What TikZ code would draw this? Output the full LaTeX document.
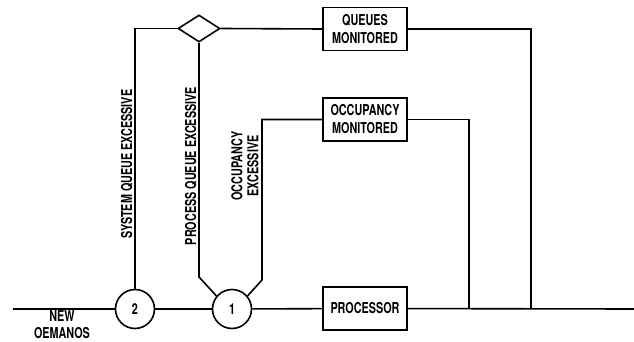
\documentclass[tikz,border=0pt]{standalone}
\usepackage{fontspec}
\setmainfont{TeX Gyre Heros}[FakeStretch=0.72,UprightFont=*-Bold]
\usetikzlibrary{shapes.geometric}
\begin{document}
\begin{tikzpicture}[x=1pt,y=-1pt,
  every node/.style={font=\fontsize{15}{18}\selectfont},
  ln/.style={line width=1.6pt,line join=miter},
  boxnode/.style={draw,line width=1.6pt,minimum width=84pt,minimum height=43pt,inner sep=0pt,align=center},
  circnode/.style={draw,circle,line width=1.6pt,minimum size=39pt,inner sep=0pt},
  lbl/.style={rotate=90,align=center,inner sep=0pt}]
\useasboundingbox (0,0) rectangle (634,342);
\node[circnode] (c2) at (135,309) {2};
\node[circnode] (c1) at (232,309) {1};
\node[boxnode] (proc) at (365,308.5) {PROCESSOR};
\node[boxnode] (qm) at (365,29) {QUEUES\\MONITORED};
\node[boxnode] (om) at (365,119.5) {OCCUPANCY\\MONITORED};
\node[draw,diamond,line width=1.6pt,minimum width=42pt,minimum height=27pt,inner sep=0pt] (dia) at (199,28.5) {};
\coordinate (start) at (13,309);
\coordinate (fin) at (634,309);
\coordinate (p1) at (199,277);
\coordinate (p2) at (262,280);
\coordinate (j1) at (469,309);
\coordinate (j2) at (531,309);
\draw[ln] (start) -- (c2);
\draw[ln] (c2) -- (c1);
\draw[ln] (c1) -- (proc);
\draw[ln] (proc) -- (fin);
\draw[ln] (dia.west) -| (c2.north);
\draw[ln] (dia.south) -- (p1) -- (c1.140);
\draw[ln] (c1.40) -- (p2) |- (om.west);
\draw[ln] (dia.east) -- (qm.west);
\draw[ln] (qm.east) -| (j2);
\draw[ln] (om.east) -| (j1);
\node[lbl] (l1) at (127,164) {SYSTEM QUEUE EXCESSIVE};
\node[lbl] (l2) at (191,166) {PROCESS QUEUE EXCESSIVE};
\node[lbl,font=\fontsize{15}{16}\selectfont] (l3) at (245,166) {OCCUPANCY\\EXCESSIVE};
\node[align=center,inner sep=0pt,font=\fontsize{15}{17}\selectfont] (nd) at (62,325) {NEW\\OEMANOS};
\end{tikzpicture}
\end{document}
